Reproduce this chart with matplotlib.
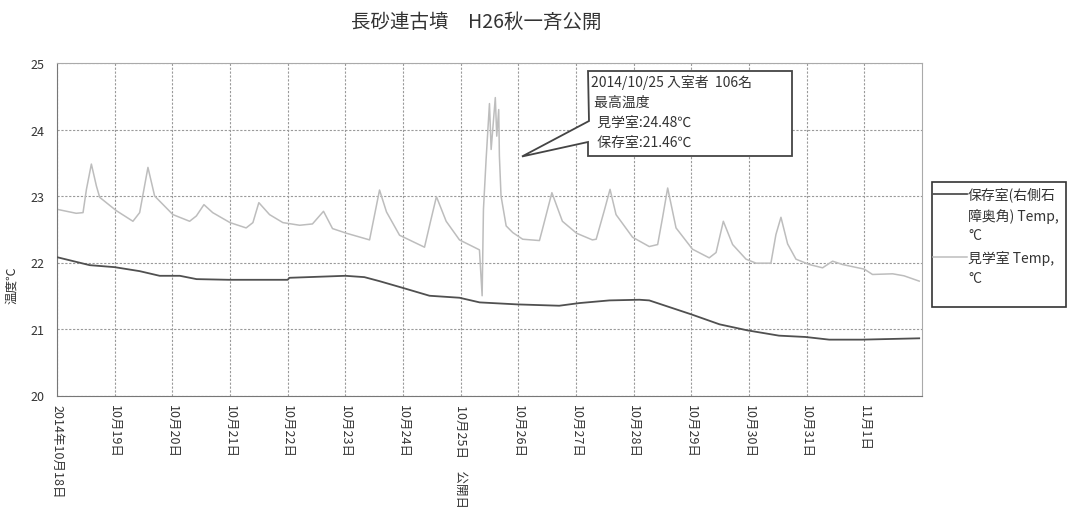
import numpy as np
import pandas as pd
import matplotlib
matplotlib.use("Agg")
import matplotlib.pyplot as plt
from matplotlib.patches import Polygon, Rectangle
from matplotlib.lines import Line2D

plt.rcParams['font.family'] = ['Noto Sans CJK JP', 'DejaVu Sans']

# 見学室 (visitor room) readings: "MM-DD HH:MM", temperature
kengaku_time = ["10-18 00:00", "10-18 08:00", "10-18 10:50", "10-18 12:15", "10-18 14:18",
                "10-18 16:24", "10-18 17:46", "10-19 00:40", "10-19 07:36", "10-19 10:24",
                "10-19 13:51", "10-19 16:38", "10-20 00:15", "10-20 07:12", "10-20 10:00",
                "10-20 13:09", "10-20 16:48", "10-21 00:00", "10-21 06:43", "10-21 09:32",
                "10-21 12:00", "10-21 16:28", "10-21 22:00", "10-22 05:00", "10-22 10:19",
                "10-22 14:55", "10-22 18:40", "10-23 00:28", "10-23 10:05", "10-23 12:08",
                "10-23 14:14", "10-23 17:08", "10-23 22:34", "10-24 08:57", "10-24 11:44",
                "10-24 13:55", "10-24 17:58", "10-24 23:30", "10-25 07:49", "10-25 08:56",
                "10-25 09:29", "10-25 10:36", "10-25 11:59", "10-25 12:41", "10-25 14:25",
                "10-25 15:01", "10-25 15:50", "10-25 16:07", "10-25 16:48", "10-25 18:56",
                "10-25 21:41", "10-26 01:49", "10-26 08:47", "10-26 10:02", "10-26 13:58",
                "10-26 18:20", "10-27 00:14", "10-27 06:49", "10-27 08:24", "10-27 11:46",
                "10-27 14:10", "10-27 16:40", "10-27 23:32", "10-28 06:29", "10-28 09:59",
                "10-28 12:00", "10-28 14:09", "10-28 17:38", "10-29 00:29", "10-29 07:26",
                "10-29 10:18", "10-29 13:19", "10-29 17:11", "10-29 22:46", "10-30 02:55",
                "10-30 09:07", "10-30 11:12", "10-30 13:18", "10-30 16:04", "10-30 19:33",
                "10-31 01:05", "10-31 06:37", "10-31 10:48", "10-31 14:53", "11-01 00:00",
                "11-01 03:24", "11-01 11:46", "11-01 16:30", "11-01 22:50"]
kengaku_temp = [22.80, 22.74, 22.75, 23.10, 23.48,
                23.15, 22.98, 22.78, 22.62, 22.75,
                23.43, 23.00, 22.72, 22.62, 22.70,
                22.87, 22.75, 22.60, 22.52, 22.60,
                22.90, 22.72, 22.60, 22.56, 22.58,
                22.77, 22.51, 22.44, 22.34, 22.71,
                23.09, 22.76, 22.41, 22.23, 22.66,
                22.99, 22.62, 22.34, 22.19, 21.50,
                22.80, 23.56, 24.39, 23.70, 24.48,
                23.90, 24.30, 23.60, 23.00, 22.55,
                22.45, 22.35, 22.33, 22.50, 23.05,
                22.62, 22.44, 22.34, 22.35, 22.78,
                23.10, 22.72, 22.38, 22.24, 22.27,
                22.67, 23.12, 22.52, 22.20, 22.07,
                22.15, 22.62, 22.27, 22.05, 21.99,
                21.99, 22.42, 22.68, 22.28, 22.05,
                21.97, 21.92, 22.02, 21.97, 21.90,
                21.82, 21.83, 21.80, 21.72]

# 保存室 (storage room) readings
hozon_time = ["10-18 00:00", "10-18 13:36", "10-19 00:00", "10-19 10:24", "10-19 18:43",
              "10-20 03:07", "10-20 10:05", "10-20 23:31", "10-22 00:00", "10-22 00:43",
              "10-23 00:00", "10-23 07:55", "10-23 14:10", "10-23 23:45", "10-24 11:02",
              "10-24 23:31", "10-25 07:55", "10-25 23:31", "10-26 17:02", "10-27 01:26",
              "10-27 13:55", "10-28 02:24", "10-28 06:29", "10-29 00:00", "10-29 11:46",
              "10-29 23:17", "10-30 12:29", "10-30 23:31", "10-31 09:22", "10-31 23:02",
              "11-01 22:50"]
hozon_temp = [22.08, 21.96, 21.93, 21.87, 21.80,
              21.80, 21.75, 21.74, 21.74, 21.77,
              21.80, 21.78, 21.72, 21.62, 21.50,
              21.47, 21.40, 21.37, 21.35, 21.39,
              21.43, 21.44, 21.43, 21.22, 21.07,
              20.98, 20.90, 20.88, 20.84, 20.84,
              20.86]

day_ticks = pd.date_range("2014-10-18", "2014-11-01", freq="D")
day_labels = ["2014年10月18日", "10月19日", "10月20日", "10月21日", "10月22日",
              "10月23日", "10月24日", "10月25日　公開日", "10月26日", "10月27日",
              "10月28日", "10月29日", "10月30日", "10月31日", "11月1日"]

note_lines = ["2014/10/25 入室者  106名", " 最高温度", "  見学室:24.48℃", "  保存室:21.46℃"]
legend_hozon = ["保存室(右側石", "障奥角) Temp,", "°C"]
legend_kengaku = ["見学室 Temp,", "°C"]

kt = pd.to_datetime(["2014-" + t for t in kengaku_time])
ht = pd.to_datetime(["2014-" + t for t in hozon_time])

W, H = 1074, 510
fig = plt.figure(figsize=(W / 100, H / 100), dpi=100)
ax = fig.add_axes([57 / W, 1 - 396.5 / H, (922 - 57) / W, (396.5 - 64) / H])

dark, light = '#505050', '#bdbdbd'
ax.plot(ht, hozon_temp, color=dark, lw=1.3, zorder=3)
ax.plot(kt, kengaku_temp, color=light, lw=1.1, zorder=2)

ax.set_xlim(pd.Timestamp("2014-10-18"), pd.Timestamp("2014-11-02"))
ax.set_ylim(20, 25)
ax.set_yticks(range(20, 26))
ax.set_xticks(day_ticks)
ax.set_xticklabels(day_labels, rotation=-90, va='top', ha='center', fontsize=9, color='#333333')
ax.tick_params(axis='y', labelsize=9, colors='#333333', length=0, pad=9)
ax.tick_params(axis='x', length=0, pad=6)
ax.grid(True, color='#9a9a9a', linestyle=(0, (2, 1.5)), lw=0.8)
for side in ['left', 'bottom']:
    ax.spines[side].set_color('#777777')
for side in ['top', 'right']:
    ax.spines[side].set_color('#aaaaaa')

fig.text(12 / W, 1 - 285 / H, "温度℃", rotation=90, va='center', ha='center', fontsize=9, color='#333333')
fig.text(476 / W, 1 - 22 / H, "長砂連古墳　H26秋一斉公開", ha='center', va='center', fontsize=14, color='#333333')

# callout box
pts = [(588, 72), (792, 72), (792, 157), (588, 157), (588, 143), (522, 157.5), (589, 122)]
callout = Polygon([(x / W, 1 - y / H) for x, y in pts], closed=True, transform=fig.transFigure,
                  facecolor='white', edgecolor='#444444', lw=1.3, zorder=5)
fig.add_artist(callout)
for i, line in enumerate(note_lines):
    fig.text(591 / W, 1 - (83 + i * 20) / H, line, ha='left', va='center', fontsize=10,
             color='#333333', zorder=6)

# legend drawn by hand so the line sample sits on the first text row
fig.add_artist(Rectangle((932 / W, 1 - 308 / H), (1066 - 932) / W, (308 - 183) / H,
                         transform=fig.transFigure, facecolor='white', edgecolor='#333333', lw=1.2))
fig.add_artist(Line2D([933 / W, 967 / W], [1 - 195 / H] * 2, transform=fig.transFigure, color=dark, lw=1.3))
fig.add_artist(Line2D([933 / W, 967 / W], [1 - 258 / H] * 2, transform=fig.transFigure, color=light, lw=1.1))
for line, y in zip(legend_hozon, [195, 216, 236]):
    fig.text(968 / W, 1 - y / H, line, ha='left', va='center', fontsize=10, color='#333333')
for line, y in zip(legend_kengaku, [258, 279]):
    fig.text(968 / W, 1 - y / H, line, ha='left', va='center', fontsize=10, color='#333333')

fig.savefig("out.png", dpi=100)
